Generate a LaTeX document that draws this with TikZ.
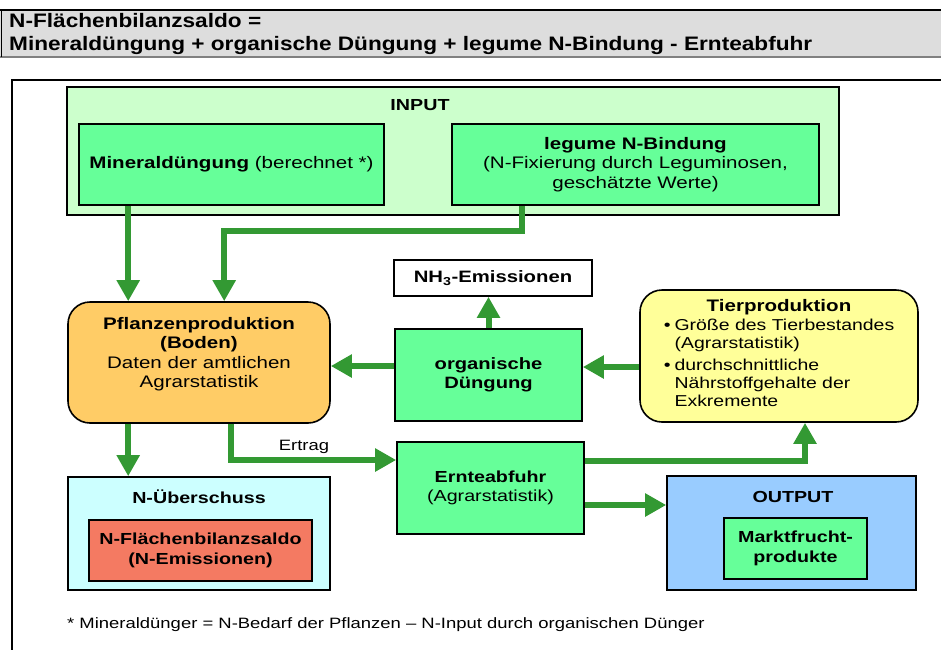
\documentclass[tikz,border=0pt]{standalone}
\usepackage{fontspec}
\setmainfont{Liberation Sans}[FakeStretch=1.23]
\newfontfamily\headfont{Liberation Sans}[FakeStretch=1.16]
\usepackage{tikz}
\usetikzlibrary{arrows.meta, positioning, calc}

\definecolor{hdrgray}{HTML}{DDDDDD}
\definecolor{inputgreen}{HTML}{CCFFCC}
\definecolor{boxgreen}{HTML}{66FF99}
\definecolor{arrowgreen}{HTML}{339933}
\definecolor{soilorange}{HTML}{FFCC66}
\definecolor{animalyellow}{HTML}{FFFF99}
\definecolor{surpluscyan}{HTML}{CCFFFF}
\definecolor{saldored}{HTML}{F47A62}
\definecolor{outputblue}{HTML}{99CCFF}

\newcommand{\boxfont}{\fontsize{16}{19.5}\selectfont}
\newcommand{\bigboxfont}{\fontsize{16.7}{19.5}\selectfont}
\newcommand{\listfont}{\fontsize{15.8}{18}\selectfont}
\newcommand{\notefont}{\fontsize{15}{18}\selectfont}

\begin{document}
\begin{tikzpicture}[x=1pt, y=-1pt,
  arrow/.style={-{Triangle[width=22pt, length=21pt]}, line width=6pt, draw=arrowgreen},
  box/.style={draw, line width=1.6pt, rectangle, align=center, inner sep=0pt, font=\boxfont},
  lbl/.style={font=\boxfont\bfseries, align=center}
]
  \useasboundingbox (0,0) rectangle (941,649);

  % Header: balance formula
  \fill[hdrgray] (0,10) rectangle (941,57);
  \draw[line width=1.5pt] (0,10) -- (941,10);
  \draw[gray, line width=2pt] (0,57) -- (941,57);
  \draw[line width=1pt] (1.5,10) -- (1.5,57);
  \node[anchor=north west, align=left, inner sep=0pt, font=\headfont\bfseries\fontsize{19.5}{23.5}\selectfont] (title) at (9,13) {N-Flächenbilanzsaldo =\\Mineraldüngung + organische Düngung + legume N-Bindung - Ernteabfuhr};

  % Frame
  \draw[line width=1.5pt] (12,670) |- (960,80);

  % INPUT
  \node[box, fill=inputgreen, minimum width=772, minimum height=128] (input) at (453,151) {};
  \node[lbl] (inputlbl) at (420,105) {INPUT};
  \node[box, fill=boxgreen, font=\bigboxfont, minimum width=305, minimum height=81] (mineral) at (231.5,164.5) {\textbf{Mineraldüngung} (berechnet *)};
  \node[box, fill=boxgreen, font=\bigboxfont, minimum width=367, minimum height=81] (legume) at (635.5,164.5) {\textbf{legume N-Bindung}\\(N-Fixierung durch Leguminosen,\\geschätzte Werte)};

  % Middle row
  \node[box, fill=soilorange, rounded corners=22, minimum width=262, minimum height=121] (pflanz) at (199,362.5) {};
  \node[align=center, font=\bigboxfont] (pflanztxt) at (199,354) {\textbf{Pflanzenproduktion}\\\textbf{(Boden)}\\Daten der amtlichen\\Agrarstatistik};
  \node[box, fill=white, font=\fontsize{16.5}{19.5}\selectfont, minimum width=198, minimum height=36] (nh3) at (493,278) {\textbf{NH\textsubscript{3}-Emissionen}};
  \node[box, fill=boxgreen, font=\fontsize{16.4}{19.5}\selectfont, minimum width=187, minimum height=92] (organ) at (488.5,375) {\textbf{organische}\\\textbf{Düngung}};
  \node[box, fill=animalyellow, font=\bigboxfont, rounded corners=22, minimum width=278, minimum height=132] (tier) at (779,356) {\textbf{Tierproduktion}\\[2pt]
    {\listfont\begin{tabular}{@{}l@{\hspace{4pt}}l@{}}
      \textbullet & Größe des Tierbestandes\\
                  & (Agrarstatistik)\\[4pt]
      \textbullet & durchschnittliche\\
                  & Nährstoffgehalte der\\
                  & Exkremente
    \end{tabular}}};

  % Bottom row
  \node[box, fill=boxgreen, minimum width=187, minimum height=92] (ernte) at (490.5,488) {\textbf{Ernteabfuhr}\\(Agrarstatistik)};
  \node[box, fill=surpluscyan, minimum width=262, minimum height=113] (ueber) at (199,533.5) {};
  \node[lbl] (ueberlbl) at (199,497) {N-Überschuss};
  \node[box, fill=saldored, minimum width=223, minimum height=61] (saldo) at (200.5,550.5) {\textbf{N-Flächenbilanzsaldo}\\\textbf{(N-Emissionen)}};
  \node[box, fill=outputblue, minimum width=249, minimum height=114] (output) at (791.5,533) {};
  \node[lbl] (outputlbl) at (793,497) {OUTPUT};
  \node[box, fill=boxgreen, minimum width=143, minimum height=61] (markt) at (795.5,548.5) {\textbf{Marktfrucht-}\\\textbf{produkte}};

  % Connectors
  \coordinate (m1) at ([xshift=50]mineral.south west);
  \coordinate (l1) at ([xshift=71]legume.south west);
  \coordinate (l2) at ([xshift=157]pflanz.north west);
  \coordinate (o1) at ([yshift=9]organ.west);
  \coordinate (t1) at ([yshift=-11]tier.west);
  \coordinate (p1) at ([xshift=61]pflanz.south west);
  \coordinate (p2) at ([xshift=164]pflanz.south west);
  \coordinate (e1) at ([yshift=27]ernte.east);
  \coordinate (e2) at ([yshift=-17]ernte.east);

  \draw[arrow] (m1) -- (m1 |- pflanz.north);
  \draw[arrow] (l1) -- ++(0,25) -| (l2);
  \draw[arrow] (organ.north) -- (organ.north |- nh3.south);
  \draw[arrow] (o1) -- (o1 -| pflanz.east);
  \draw[arrow] (t1) -- (t1 -| organ.east);
  \draw[arrow] (p1) -- (p1 |- ueber.north);
  \draw[arrow] (p2) |- ([yshift=28]ernte.west);
  \node[font=\notefont] (ertrag) at (304,447) {Ertrag};
  \draw[arrow] (e1) -| ([xshift=26]tier.south);
  \draw[arrow] (e2) -- (e2 -| output.west);

  % Footnote
  \node[anchor=west, inner sep=0pt, font=\notefont] (note) at (67,625) {* Mineraldünger = N-Bedarf der Pflanzen – N-Input durch organischen Dünger};
\end{tikzpicture}
\end{document}
